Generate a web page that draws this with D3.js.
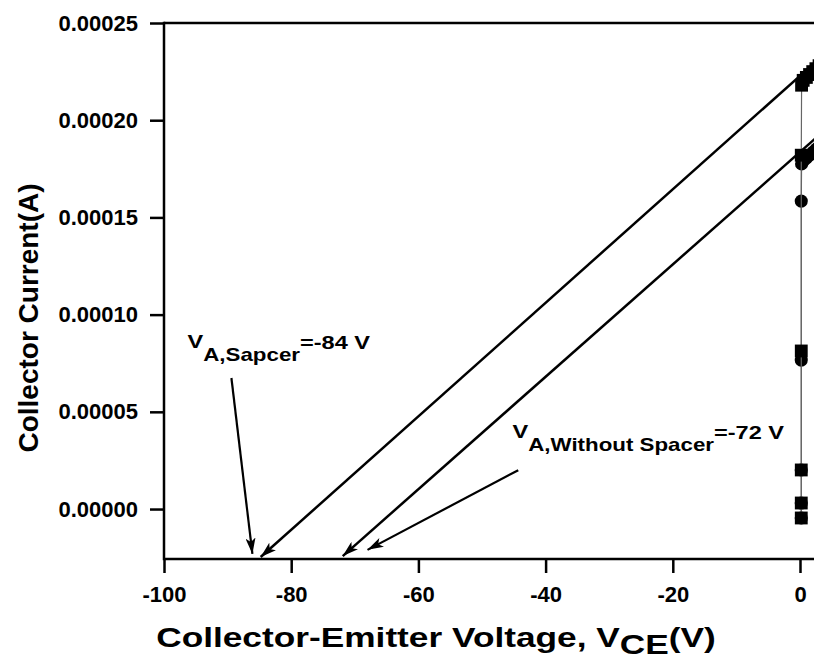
<!DOCTYPE html>
<html><head><meta charset="utf-8">
<script src="https://cdn.jsdelivr.net/npm/d3@7"></script>
<style>
body{margin:0;background:#fff;}
text{font-family:"Liberation Sans",Arial,sans-serif;font-weight:bold;fill:#000;}
</style></head>
<body><svg id="c" width="814" height="659"></svg>
<script>
// ---- data ----
const xTicks = [-100, -80, -60, -40, -20, 0];
const yTicks = [0, 0.00005, 0.00010, 0.00015, 0.00020, 0.00025];
const yTickLabels = ["0.00000","0.00005","0.00010","0.00015","0.00020","0.00025"];

// With spacer (squares)
const spacerV = [0.2, 0.2, 0.2, 0.2, 0.2, 0.25, 0.5, 1.0, 1.5, 2.0, 2.5, 3.0];
const spacerI = [-4.6e-6, 3.1e-6, 2.01e-5, 8.13e-5, 1.82e-4, 2.18e-4, 2.205e-4, 2.22e-4, 2.235e-4, 2.25e-4, 2.265e-4, 2.28e-4];
// Without spacer (circles)
const noSpacerV = [0.2, 0.2, 0.2, 0.2, 0.2, 0.25, 0.5, 1.0, 1.5, 2.0, 2.5, 3.0];
const noSpacerI = [-4.6e-6, 3.1e-6, 2.01e-5, 7.66e-5, 1.584e-4, 1.775e-4, 1.79e-4, 1.805e-4, 1.82e-4, 1.835e-4, 1.85e-4, 1.865e-4];

// Early-voltage extrapolation lines [from V, from I, tip V, tip I]
const extrapLines = [
  [3.0, 2.316e-4, -84.8, -2.47e-5],
  [3.0, 1.923e-4, -71.9, -2.42e-5]
];
// annotation arrows [from V, from I, tip V, tip I]
const annotArrows = [
  [-89.4, 6.74e-5, -86.1, -2.31e-5],
  [-44.3, 2.0e-5, -68.0, -2.1e-5]
];
// annotation labels: position (V, I), main, subscript, tail
const annotLabels = [
  {v: -96.3, i: 8.28e-5, main: "V", sub: "A,Sapcer", tail: "=-84 V"},
  {v: -45.2, i: 3.65e-5, main: "V", sub: "A,Without Spacer", tail: "=-72 V"}
];

const xDomain = [-100, 0];
const yDomain = [-0.0000257, 0.00025];

// ---- chart ----
const svg = d3.select("#c");
const x = d3.scaleLinear().domain(xDomain).range([164, 800]);
const y = d3.scaleLinear().domain(yDomain).range([559, 23]);
const W = 814;

svg.append("defs").append("marker")
  .attr("id","ah").attr("viewBox","0 0 16 10").attr("refX",16).attr("refY",5)
  .attr("markerWidth",16).attr("markerHeight",10).attr("markerUnits","userSpaceOnUse")
  .attr("orient","auto")
  .append("path").attr("d","M0,0 L16,5 L0,10 L4,5 z").attr("fill","#000");

// axes
const ya = svg.append("g").attr("transform",`translate(${x(-100)},0)`)
  .call(d3.axisLeft(y).tickValues(yTicks).tickFormat((d,i)=>yTickLabels[i]).tickSize(14).tickPadding(12).tickSizeOuter(0));
const xa = svg.append("g").attr("transform",`translate(0,${y(yDomain[0])})`)
  .call(d3.axisBottom(x).tickValues(xTicks).tickFormat(d3.format("d")).tickSize(14).tickPadding(13).tickSizeOuter(0));
[ya, xa].forEach(g=>{
  g.selectAll("path.domain").remove();
  g.selectAll(".tick line").attr("stroke","#000").attr("stroke-width",2.5);
  g.selectAll(".tick text").style("font-size","22px").style("font-family","Liberation Sans, Arial, sans-serif").style("font-weight","bold").attr("fill","#000");
});
xa.selectAll(".tick text").text(d=>d===0?"0":String(d).replace("−","-"));

// frame lines
svg.append("line").attr("x1",x(-100)).attr("x2",W).attr("y1",y(yDomain[1])).attr("y2",y(yDomain[1])).attr("stroke","#000").attr("stroke-width",2.5);
svg.append("line").attr("x1",x(-100)).attr("x2",W).attr("y1",y(yDomain[0])).attr("y2",y(yDomain[0])).attr("stroke","#000").attr("stroke-width",2.5);
svg.append("line").attr("x1",x(-100)).attr("x2",x(-100)).attr("y1",y(yDomain[0])+1.25).attr("y2",y(yDomain[1])-1.25).attr("stroke","#000").attr("stroke-width",2.5);

// extrapolation lines with arrowheads
svg.selectAll(".ex").data(extrapLines).join("line").attr("class","ex")
  .attr("x1",d=>x(d[0])).attr("y1",d=>y(d[1])).attr("x2",d=>x(d[2])).attr("y2",d=>y(d[3]))
  .attr("stroke","#000").attr("stroke-width",2.5).attr("marker-end","url(#ah)");
svg.selectAll(".an").data(annotArrows).join("line").attr("class","an")
  .attr("x1",d=>x(d[0])).attr("y1",d=>y(d[1])).attr("x2",d=>x(d[2])).attr("y2",d=>y(d[3]))
  .attr("stroke","#000").attr("stroke-width",2.2).attr("marker-end","url(#ah)");

// series
function series(V, I, sym, size){
  const pts = V.map((v,k)=>[v, I[k]]);
  svg.append("path").datum(pts).attr("fill","none").attr("stroke","#666").attr("stroke-width",1.2)
    .attr("d", d3.line().x(d=>x(d[0])).y(d=>y(d[1])));
  svg.append("g").selectAll("path").data(pts).join("path")
    .attr("transform",d=>`translate(${x(d[0])},${y(d[1])})`)
    .attr("d", d3.symbol().type(sym).size(size)).attr("fill","#000");
}
series(noSpacerV, noSpacerI, d3.symbolCircle, 135);
series(spacerV, spacerI, d3.symbolSquare, 165);

// annotation labels (horizontally stretched like the original)
annotLabels.forEach(a=>{
  const t = svg.append("text").attr("transform",`translate(${x(a.v)},${y(a.i)}) scale(1.24,1)`);
  t.append("tspan").style("font-size","19px").text(a.main);
  t.append("tspan").attr("dy",13).style("font-size","18px").text(a.sub);
  t.append("tspan").attr("dy",-12).style("font-size","19px").text(a.tail);
});

// axis titles
const xt = svg.append("text").attr("transform",`translate(436,647) scale(1.26,1)`).attr("text-anchor","middle");
xt.append("tspan").style("font-size","28px").text("Collector-Emitter Voltage, V");
xt.append("tspan").attr("dy",7).style("font-size","28px").text("CE");
xt.append("tspan").attr("dy",-7).style("font-size","28px").text("(V)");

svg.append("text").attr("transform",`translate(38,318) rotate(-90)`)
  .attr("text-anchor","middle").style("font-size","28px").text("Collector Current(A)");
</script></body></html>
